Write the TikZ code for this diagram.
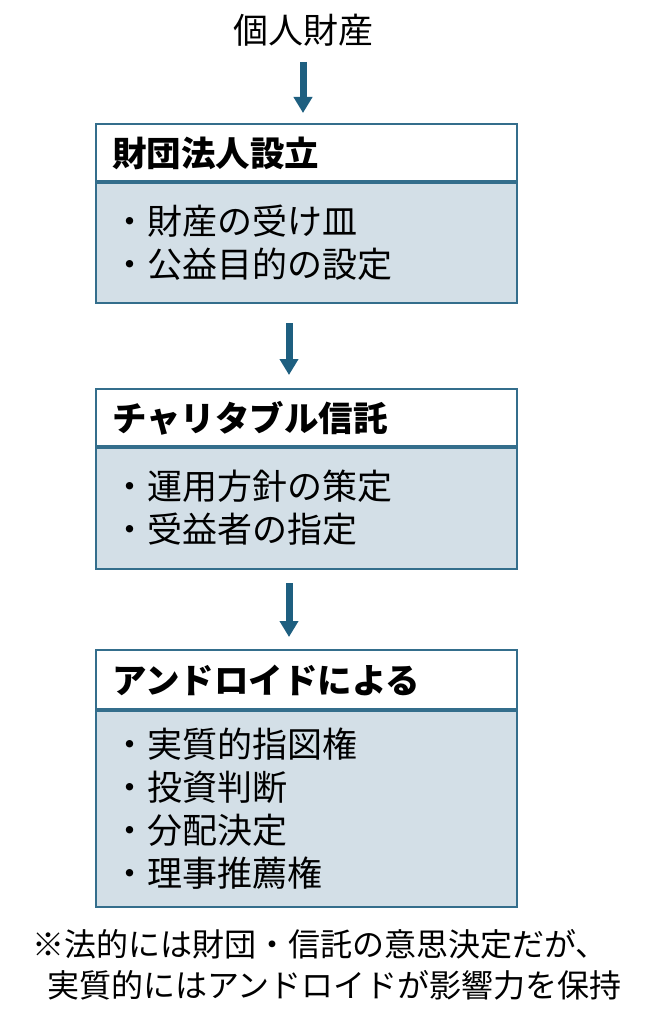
\documentclass[tikz,border=0pt]{standalone}
\usepackage{fontspec}
\setmainfont{Noto Sans CJK JP}
\usetikzlibrary{arrows.meta}
\definecolor{bordc}{RGB}{52,110,140}
\definecolor{arrc}{RGB}{30,95,128}
\definecolor{bodyc}{RGB}{211,223,231}
\tikzset{
  boxbase/.style={draw=bordc, line width=2pt, minimum width=421pt, text width=389pt,
    inner xsep=16pt, inner ysep=0pt, outer sep=0pt, align=left, anchor=north west},
  hdr/.style={boxbase, fill=white, font=\fontsize{34.5}{40}\selectfont\bfseries},
  bdy/.style={boxbase, fill=bodyc, font=\fontsize{35}{43}\selectfont},
  divider/.style={draw=bordc, line width=3.5pt},
  arr/.style={draw=arrc, line width=7pt, -{Triangle[width=18pt,length=16pt,fill=arrc]}},
  plain/.style={inner sep=0pt, font=\fontsize{35}{41}\selectfont},
  note/.style={inner sep=0pt, align=left, anchor=west, font=\fontsize{32}{41}\selectfont},
}
\begin{document}
\begin{tikzpicture}[x=1pt,y=1pt]
\useasboundingbox (0,0) rectangle (645,-1024);
\fill[white] (0,0) rectangle (645,-1024);

\node[plain] (title) at (303,-30) {個人財産};

\node[hdr, minimum height=58pt] (h1) at (96,-124) {財団法人設立};
\node[bdy, minimum height=121pt] (b1) at (96,-182) {・財産の受け皿\\・公益目的の設定};
\draw[divider] (h1.south west) -- (h1.south east);

\node[hdr, minimum height=58pt] (h2) at (96,-389) {チャリタブル信託};
\node[bdy, minimum height=122pt] (b2) at (96,-447) {・運用方針の策定\\・受益者の指定};
\draw[divider] (h2.south west) -- (h2.south east);

\node[hdr, minimum height=60pt] (h3) at (96,-650) {アンドロイドによる};
\node[bdy, minimum height=197pt] (b3) at (96,-710) {・実質的指図権\\・投資判断\\・分配決定\\・理事推薦権};
\draw[divider] (h3.south west) -- (h3.south east);

\draw[arr] ([yshift=-32pt]title.center) -- ([xshift=-3.5pt,yshift=11pt]h1.north);
\draw[arr] ([xshift=-17.5pt,yshift=-20pt]b1.south) -- ([xshift=-17.5pt,yshift=14pt]h2.north);
\draw[arr] ([xshift=-17.5pt,yshift=-14pt]b2.south) -- ([xshift=-17.5pt,yshift=13pt]h3.north);

\node[note] (n1) at (32,-964.5) {※法的には財団・信託の意思決定だが、\\\hspace*{15pt}実質的にはアンドロイドが影響力を保持};
\end{tikzpicture}
\end{document}
